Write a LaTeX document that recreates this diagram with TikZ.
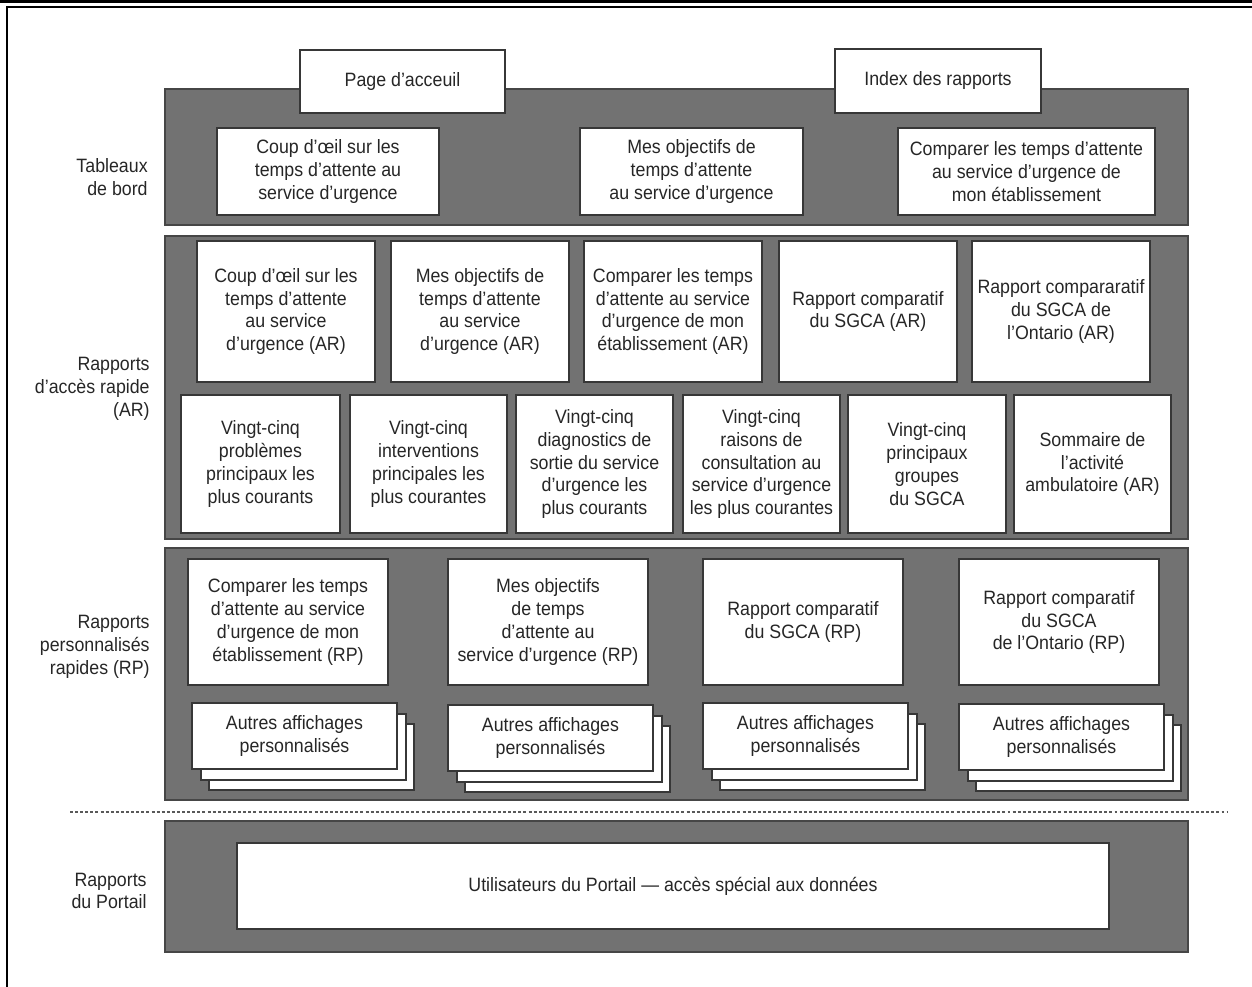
\documentclass[tikz,border=0pt]{standalone}
\usepackage{fontspec}
\setmainfont{Liberation Sans}[FakeStretch=0.92]
\definecolor{bandfill}{RGB}{114,114,114}
\definecolor{bandline}{RGB}{70,70,70}
\definecolor{boxline}{RGB}{55,55,55}
\definecolor{ink}{RGB}{38,38,38}
\newcommand\rbox[7]{\node[#1, minimum width={((#4)-(#2))*0.02cm}, minimum height={((#5)-(#3))*0.02cm}] (#6) at ({((#2)+(#4))/2},{((#3)+(#5))/2}) {#7};}
\newcommand\stackbox[4]{%
  \rbox{wbox}{#1+17}{#2+21}{#1+222}{#2+87}{#3c}{}
  \rbox{wbox}{#1+9}{#2+11}{#1+214}{#2+77}{#3b}{}
  \rbox{wbox}{#1}{#2}{#1+205}{#2+66}{#3}{#4}}
\tikzset{
  band/.style={draw=bandline, fill=bandfill, line width=1pt, inner sep=0pt},
  wbox/.style={draw=boxline, fill=white, line width=0.9pt, align=center, inner sep=1pt, text=ink, font=\fontsize{11}{13}\selectfont},
  lab/.style={align=right, anchor=east, text=ink, inner sep=0pt, font=\fontsize{11}{13}\selectfont},
  sep/.style={draw=black!65, line width=0.8pt, dash pattern=on 1.7pt off 1.2pt},
  frame/.style={draw=black, line width=0.9pt}
}
\begin{document}
\begin{tikzpicture}[x=0.02cm, y=-0.02cm]
\useasboundingbox (0,0) rectangle (1252,987);
% frame
\fill[black] (0,0) rectangle (1252,3.4);
\coordinate (fa) at (7,987);
\coordinate (fb) at (7,7);
\coordinate (fc) at (1252,7);
\draw[frame] (fa) -- (fb) -- (fc);

% band 1 : Tableaux de bord
\rbox{band}{165}{89}{1188}{225}{band1}{}
\rbox{wbox}{300}{50}{505}{113}{tab1}{Page d’acceuil}
\rbox{wbox}{835}{49}{1041}{113}{tab2}{Index des rapports}
\rbox{wbox}{217}{128}{439}{215}{t1}{Coup d’œil sur les\\temps d’attente au\\service d’urgence}
\rbox{wbox}{580}{128}{803}{215}{t2}{Mes objectifs de\\temps d’attente\\au service d’urgence}
\rbox{wbox}{898}{128}{1155}{215}{t3}{Comparer les temps d’attente\\au service d’urgence de\\mon établissement}
\node[lab] (l1) at (148,177) {Tableaux\\de bord};

% band 2 : AR
\rbox{band}{165}{236}{1188}{539}{band2}{}
\rbox{wbox}{197}{241}{375}{382}{a1}{Coup d’œil sur les\\temps d’attente\\au service\\d’urgence (AR)}
\rbox{wbox}{391}{241}{569}{382}{a2}{Mes objectifs de\\temps d’attente\\au service\\d’urgence (AR)}
\rbox{wbox}{584}{241}{762}{382}{a3}{Comparer les temps\\d’attente au service\\d’urgence de mon\\établissement (AR)}
\rbox{wbox}{779}{241}{957}{382}{a4}{Rapport comparatif\\du SGCA (AR)}
\rbox{wbox}{972}{241}{1150}{382}{a5}{Rapport compararatif\\du SGCA de\\l'Ontario (AR)}
\rbox{wbox}{181}{395}{340}{533}{v1}{Vingt-cinq\\problèmes\\principaux les\\plus courants}
\rbox{wbox}{350}{395}{507}{533}{v2}{Vingt-cinq\\interventions\\principales les\\plus courantes}
\rbox{wbox}{516}{395}{673}{533}{v3}{Vingt-cinq\\diagnostics de\\sortie du service\\d’urgence les\\plus courants}
\rbox{wbox}{683}{395}{840}{533}{v4}{Vingt-cinq\\raisons de\\consultation au\\service d’urgence\\les plus courantes}
\rbox{wbox}{848}{395}{1006}{533}{v5}{Vingt-cinq\\principaux\\groupes\\du SGCA}
\rbox{wbox}{1014}{395}{1171}{533}{v6}{Sommaire de\\l’activité\\ambulatoire (AR)}
\node[lab] (l2) at (150,389) {Rapports\\d’accès rapide\\(AR)};

% band 3 : RP
\rbox{band}{165}{548}{1188}{800}{band3}{}
\rbox{wbox}{188}{559}{388}{685}{p1}{Comparer les temps\\d’attente au service\\d’urgence de mon\\établissement (RP)}
\rbox{wbox}{448}{559}{648}{685}{p2}{Mes objectifs\\de temps\\d’attente au\\service d’urgence (RP)}
\rbox{wbox}{703}{559}{903}{685}{p3}{Rapport comparatif\\du SGCA (RP)}
\rbox{wbox}{959}{559}{1159}{685}{p4}{Rapport comparatif\\du SGCA\\de l'Ontario (RP)}
\stackbox{192}{703}{s1}{Autres affichages\\personnalisés}
\stackbox{448}{705}{s2}{Autres affichages\\personnalisés}
\stackbox{703}{703}{s3}{Autres affichages\\personnalisés}
\stackbox{959}{704}{s4}{Autres affichages\\personnalisés}
\node[lab] (l3) at (150,647) {Rapports\\personnalisés\\rapides (RP)};

% separator
\coordinate (dl) at (70,812);
\coordinate (dr) at (1228,812);
\draw[sep] (dl) -- (dr);

% band 4 : Portail
\rbox{band}{165}{821}{1188}{952}{band4}{}
\rbox{wbox}{237}{843}{1109}{929}{u1}{Utilisateurs du Portail — accès spécial aux données}
\node[lab] (l4) at (147,891) {Rapports\\du Portail};
\end{tikzpicture}
\end{document}
